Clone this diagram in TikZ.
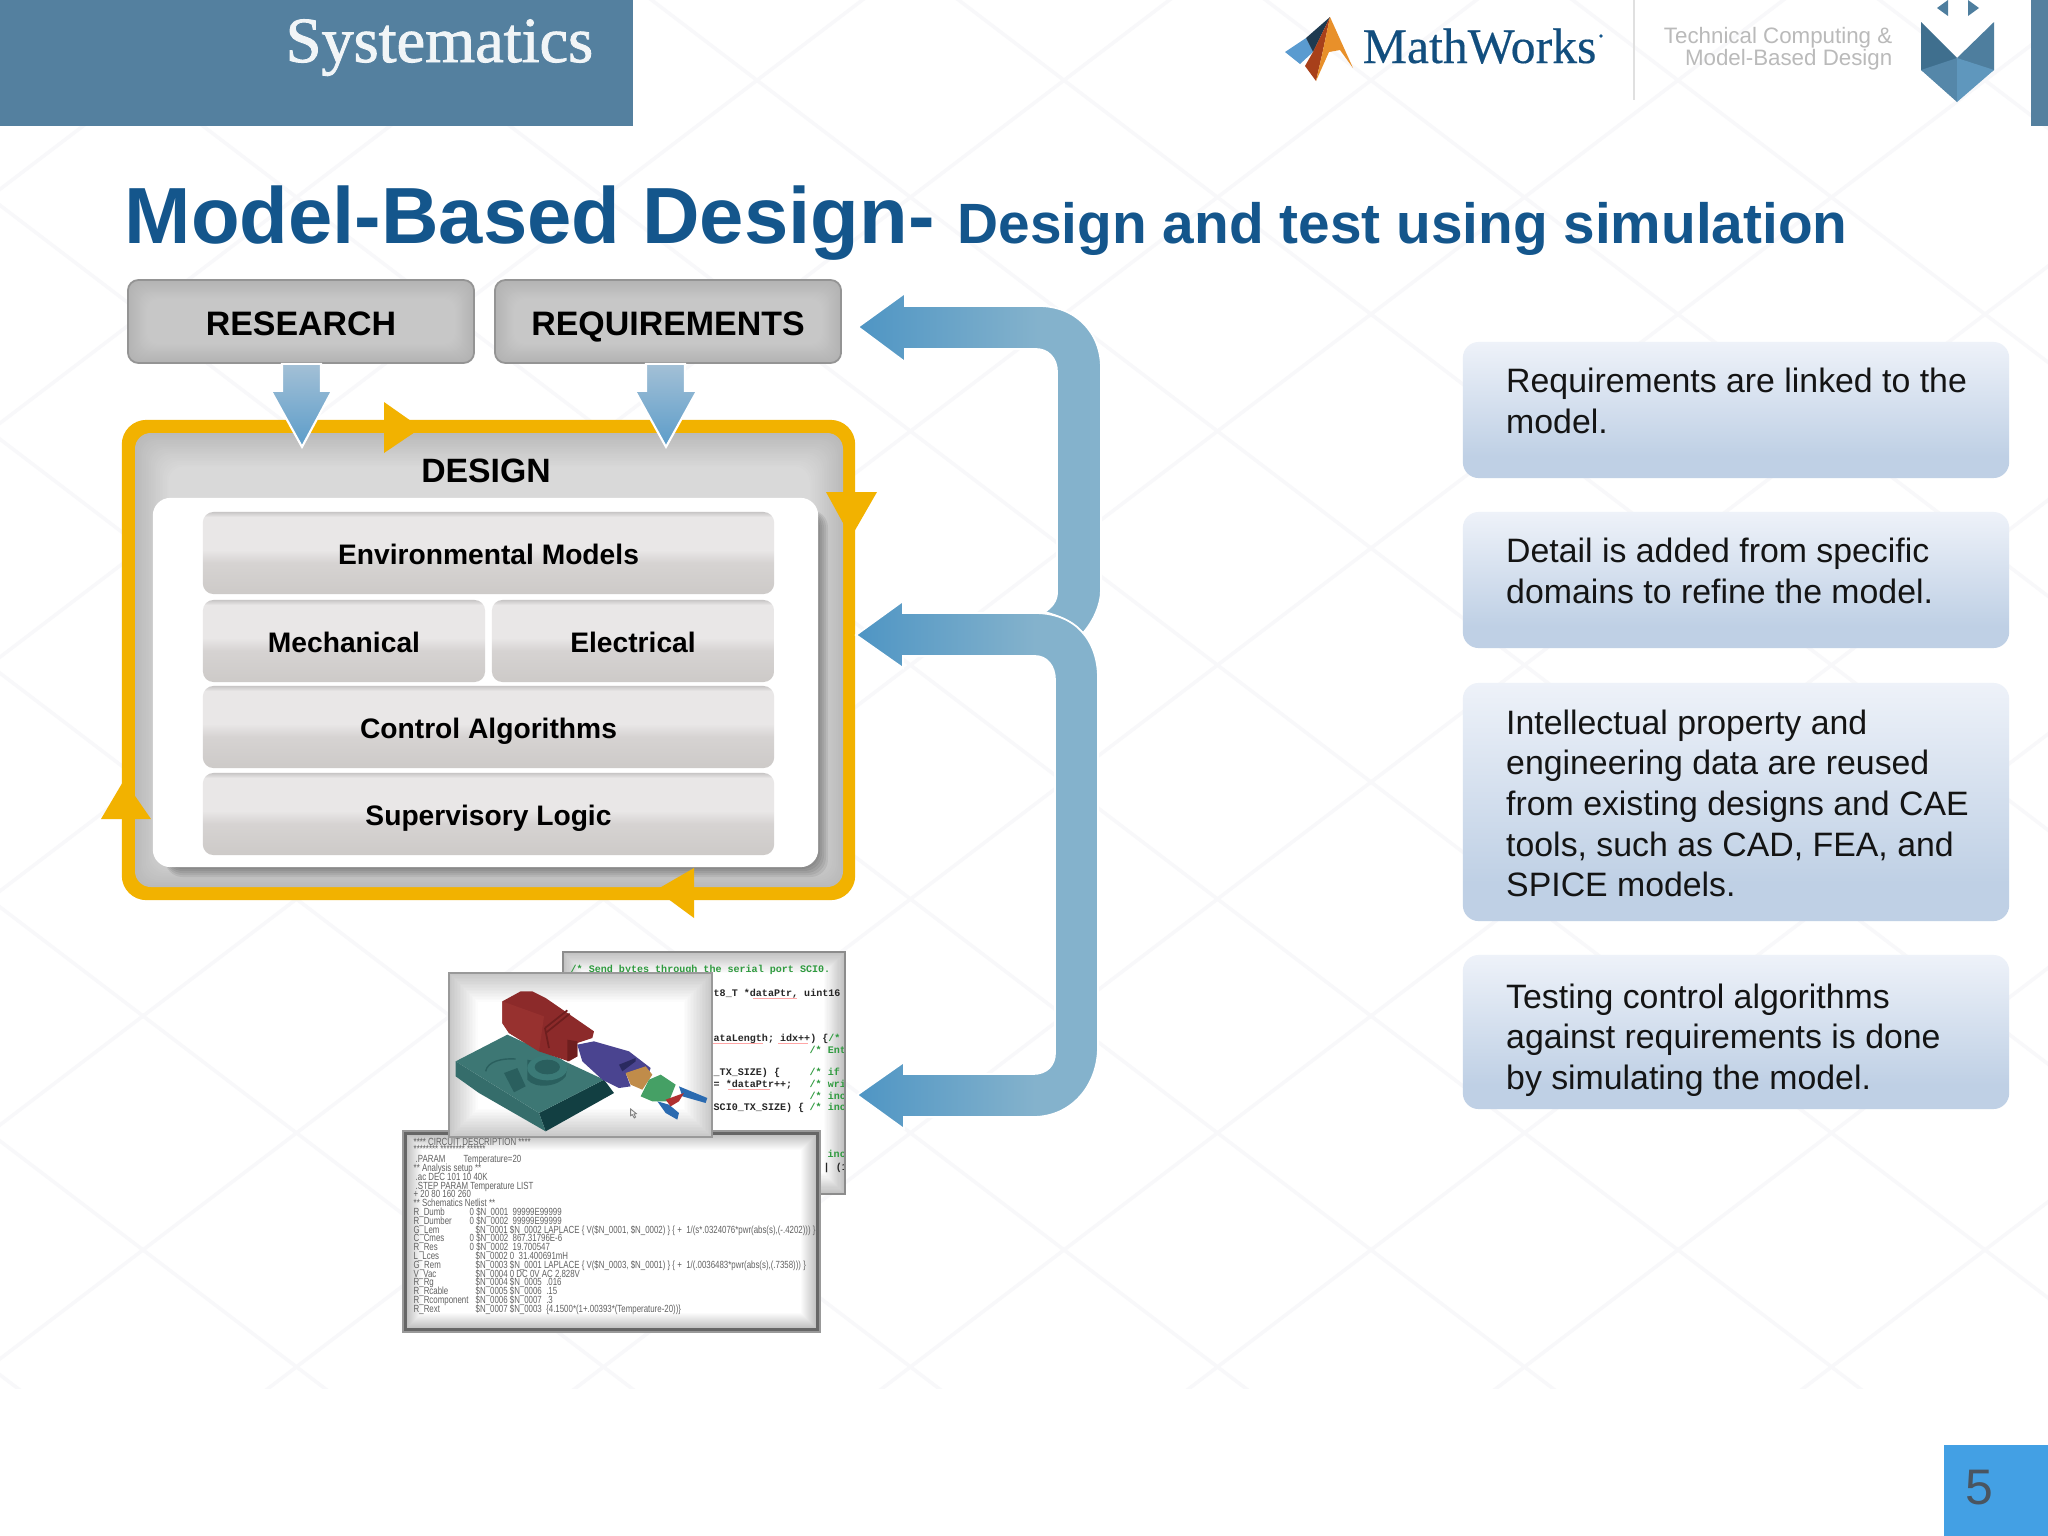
\documentclass[tikz,border=0pt]{standalone}
\usepackage{fontspec}
\setmainfont{Liberation Sans}
\newfontfamily\serifx{Liberation Serif}
\newfontfamily\serifb[FakeBold=1.4]{Liberation Serif}
\newfontfamily\serifm[FakeBold=0.3]{Liberation Serif}
\newfontfamily\monox{Liberation Mono}
\newfontfamily\cktfont[FakeStretch=0.76]{Liberation Sans}
\definecolor{hdrblue}{HTML}{54809F}
\definecolor{titleblue}{HTML}{14568C}
\definecolor{goldy}{HTML}{F2B200}
\definecolor{arrdark}{HTML}{4E95C4}
\definecolor{arrlight}{HTML}{84B2CC}
\definecolor{arrtop}{HTML}{A3C0D6}
\definecolor{arrtip}{HTML}{5B9CC9}
\definecolor{latt}{HTML}{F8F8FA}
\definecolor{codegreen}{HTML}{2E9A3E}
\definecolor{panlo}{HTML}{CDCAC8}
\definecolor{panmid}{HTML}{D6D3D2}
\definecolor{panhi}{HTML}{E9E7E7}
\definecolor{panedge}{HTML}{C8C6C6}
\definecolor{infolo}{HTML}{BFD0E5}
\definecolor{infohi}{HTML}{EEF2F9}
\definecolor{pageblue}{HTML}{43A0E4}
\definecolor{pagetxt}{HTML}{4A5560}
\definecolor{rbasetop}{HTML}{3D7774}
\definecolor{rbaseleft}{HTML}{356D6B}
\definecolor{rbasedark}{HTML}{123F42}
\definecolor{rcyl}{HTML}{3B7A77}
\definecolor{rnotch}{HTML}{2A5F5E}
\definecolor{rred}{HTML}{8C2A2A}
\definecolor{rredlight}{HTML}{97312F}
\definecolor{rreddark}{HTML}{6E1E1E}
\definecolor{rblue}{HTML}{4A4490}
\definecolor{rbluedark}{HTML}{2A2A60}
\definecolor{rorange}{HTML}{C08C4A}
\definecolor{rgreen}{HTML}{45A065}
\definecolor{rclaw}{HTML}{B03030}
\definecolor{rfinger}{HTML}{2A6AB0}
\definecolor{mwblue}{HTML}{5A9BD0}
\definecolor{mwdark}{HTML}{1E3A50}
\definecolor{mwred}{HTML}{A8401A}
\definecolor{mworange}{HTML}{E8902A}
\definecolor{emA}{HTML}{3F6F8E}
\definecolor{emB}{HTML}{4E7E9E}
\definecolor{emC}{HTML}{5587A9}
\definecolor{emD}{HTML}{5F97BD}
\pgfdeclarehorizontalshading{bluearrowsh}{100bp}{color(0bp)=(arrdark); color(25bp)=(arrdark); color(62bp)=(arrlight); color(100bp)=(arrlight)}
\pgfdeclareverticalshading{panelsh}{100bp}{color(0bp)=(panlo); color(25bp)=(panlo); color(44bp)=(panmid); color(52bp)=(panhi); color(72bp)=(panhi); color(75bp)=(panedge); color(100bp)=(panedge)}
\pgfdeclareverticalshading{infosh}{100bp}{color(0bp)=(infolo); color(33bp)=(infolo); color(75bp)=(infohi); color(100bp)=(infohi)}
\newcommand\softbox[8]{%
  \colorlet{softouter}{#6}\colorlet{softinner}{#7}%
  \foreach \i in {0,...,19}{%
    \pgfmathsetmacro\tmix{\i*100/19}
    \fill[softinner!\tmix!softouter, rounded corners=#5] ({#1+\i*#8/2},{#2+\i*#8/2}) rectangle ({#3-\i*#8/2},{#4-\i*#8/2});
  }}
\newcommand\bstrut{\rule[-3.47pt]{0pt}{11.57pt}}
\newcommand\Nn[1]{\$N\_000#1}
\newcommand\cktline[4]{\node[ckttxt] (#1) at (#3,#2) {#4};}
\newcommand\codeline[4]{\node[codetxt] (#1) at (#3,#2) {#4};}
\tikzset{
  infobox/.style={shade, shading=infosh, rounded corners=4.5pt, inner sep=0pt},
  infotext/.style={anchor=north west, inner sep=0pt, align=left, text=black!92, font=\fontsize{9.62pt}{11.57pt}\selectfont},
  greybox/.style={draw=black!42, line width=.5pt, rounded corners=3pt, inner sep=0pt, minimum width=3.46cm, minimum height=.83cm, text height=7.7pt, text depth=0pt, font=\fontsize{9.65pt}{12pt}\selectfont\bfseries},
  panelbox/.style={shade, shading=panelsh, rounded corners=3pt, inner sep=0pt, minimum height=.82cm, text height=6.7pt, text depth=0pt, font=\fontsize{8.02pt}{10pt}\selectfont\bfseries},
  goldtri/.style={fill=goldy},
  downarr/.style={top color=arrtop, bottom color=arrtip, draw=white, line width=.6pt},
  bigarr/.style={shading=bluearrowsh, draw=white, line width=.5pt},
  ckttxt/.style={anchor=base west, inner sep=0pt, text=black!62, font=\cktfont\fontsize{2.95pt}{3.5pt}\selectfont},
  codetxt/.style={anchor=base west, inner sep=0pt, text=black!85, font=\monox\bfseries\fontsize{2.86pt}{3.4pt}\selectfont},
  lattline/.style={draw=latt, line width=1pt},
}
\begin{document}
\begin{tikzpicture}[x=0.01cm,y=-0.01cm]
\useasboundingbox (0,0) rectangle (2048,1536);
\fill[white] (0,0) rectangle (2048,1536);
% background lattice
\begin{scope}
  \clip (0,0) rectangle (2048,1388);
  \foreach \k in {-8,...,16}{
    \pgfmathsetmacro\xo{143+307*\k}
    \draw[lattline] ({\xo-1706},-50) -- ({\xo+197},1400);
    \draw[lattline] ({\xo+1706},-50) -- ({\xo-197},1400);
  }
\end{scope}
% header
\fill[hdrblue] (0,0) rectangle (633,126);
\fill[hdrblue] (2031,0) rectangle (2048,126);
\node[anchor=base west, inner sep=0pt, text=white!92!hdrblue, font=\serifb\fontsize{18.3pt}{22pt}\selectfont] (systematics) at (285,62) {Systematics};
% MathWorks logo
\fill[mwblue] (1285,52) -- (1306,38) -- (1313,52) -- (1300,64) -- cycle;
\fill[mwdark] (1306,38) -- (1330,17) -- (1316,46) -- (1313,52) -- cycle;
\fill[mwred] (1313,52) -- (1330,17) -- (1322,55) -- (1316,81) -- (1305,66) -- cycle;
\fill[mworange] (1330,17) -- (1353,68) -- (1340,50) -- (1329,52) -- (1316,81) -- (1322,55) -- cycle;
\node[anchor=base west, inner sep=0pt, text=titleblue!90!black, font=\serifm\fontsize{14.15pt}{17pt}\selectfont] (mathworks) at (1362,63) {MathWorks};
\fill[titleblue] (1601,36) circle (1.8);
\draw[black!12, line width=.5pt] (1634,0) -- (1634,100);
\node[anchor=base east, inner sep=0pt, text=black!27, font=\fontsize{6.35pt}{7.5pt}\selectfont] (tagone) at (1893,43) {Technical Computing \&};
\node[anchor=base east, inner sep=0pt, text=black!27, font=\fontsize{6.35pt}{7.5pt}\selectfont] (tagtwo) at (1893,65) {Model-Based Design};
% emblem
\fill[emB] (1937,8) -- (1948,0) -- (1948,16) -- cycle;
\fill[emB] (1968,0) -- (1979,8) -- (1968,16) -- cycle;
\fill[emA] (1921,22) -- (1957,58) -- (1930,76) -- (1921,70) -- cycle;
\fill[emB] (1994,22) -- (1994,70) -- (1985,76) -- (1957,58) -- cycle;
\fill[emC] (1921,70) -- (1957,58) -- (1957,102) -- cycle;
\fill[emD] (1994,70) -- (1957,58) -- (1957,102) -- cycle;
% title
\node[anchor=base west, inner sep=0pt, text=titleblue, font=\fontsize{22.65pt}{27pt}\selectfont\bfseries] (title) at (124,243) {Model-Based Design-};
\node[anchor=base west, inner sep=0pt, text=titleblue, font=\fontsize{16.15pt}{19pt}\selectfont\bfseries] (subtitle) at (957,243) {Design and test using simulation};
% research, requirements
\softbox{128}{280}{474}{363}{3pt}{black!30}{black!22}{2}
\softbox{495}{280}{841}{363}{3pt}{black!30}{black!22}{2}
\node[greybox] (research) at (301,321.5) {RESEARCH};
\node[greybox] (requirements) at (668,321.5) {REQUIREMENTS};
% design frame
\node[fill=goldy, rounded corners=7pt, inner sep=0pt, minimum width=7.33cm, minimum height=4.8cm] (designframe) at (488.5,660) {};
\softbox{135}{433}{843}{887}{4.5pt}{black!27}{black!15}{3.5}
\foreach \i in {2,4,...,10}{
  \fill[black, opacity=.07, rounded corners=5pt] (165,510) rectangle ({818+\i},{867+\i});
}
\node[fill=white, rounded corners=5pt, inner sep=0pt, minimum width=6.65cm, minimum height=3.69cm] (whitepanel) at (485.5,682.5) {};
\node[inner sep=0pt, text height=7pt, text depth=0pt, font=\fontsize{9.6pt}{12pt}\selectfont\bfseries] (designlabel) at (486,470) {DESIGN};
\node[panelbox, minimum width=5.71cm] (env) at (488.5,553) {Environmental Models};
\node[panelbox, minimum width=2.82cm] (mech) at (344,641) {Mechanical};
\node[panelbox, minimum width=2.82cm] (elec) at (633,641) {Electrical};
\node[panelbox, minimum width=5.71cm] (ctrl) at (488.5,727) {Control Algorithms};
\node[panelbox, minimum width=5.71cm] (sup) at (488.5,814) {Supervisory Logic};
% gold cycle arrowheads
\fill[goldtri] (384,402) -- (421,428) -- (384,453) -- cycle;
\fill[goldtri] (826,492) -- (877,492) -- (854,532) -- (848,532) -- cycle;
\fill[goldtri] (101,819) -- (124,780) -- (151,819) -- cycle;
\fill[goldtri] (694,868) -- (694,918) -- (656,890) -- cycle;
% blue vertical arrows
\begin{scope}[shift={(research.south)}]
  \shadedraw[downarr] (-19,0) -- (-19,27) -- (-30,27) -- (1,83) -- (31,27) -- (20,27) -- (20,0) -- cycle;
\end{scope}
\begin{scope}[shift={(requirements.south)}]
  \shadedraw[downarr] (-22,0) -- (-22,27) -- (-33,27) -- (-2,83) -- (29,27) -- (17,27) -- (17,0) -- cycle;
\end{scope}
% big feedback arrows
\coordinate (tipreq) at (858,327);
\coordinate (tipdes) at (856,635);
\coordinate (tipcode) at (857,1095);
\shadedraw[bigarr] (tipreq) -- (905,293) -- (905,306) -- (1039,306) .. controls (1075,306) and (1101,332) .. (1101,368) -- (1101,590) .. controls (1101,605) and (1093,622) .. (1083,633) .. controls (1072,622) and (1058,615) .. (1044,612) .. controls (1052,608) and (1057,600) .. (1057,593) -- (1057,372) .. controls (1057,358) and (1048,349) .. (1036,349) -- (905,349) -- (905,362) -- cycle;
\shadedraw[bigarr] (tipdes) -- (903,601) -- (903,613) -- (1035,613) .. controls (1075,613) and (1098,640) .. (1098,678) -- (1098,1047) .. controls (1098,1085) and (1072,1117) .. (1033,1117) -- (904,1117) -- (904,1129) -- (tipcode) -- (904,1062) -- (904,1074) -- (1033,1074) .. controls (1047,1074) and (1055,1065) .. (1055,1053) -- (1055,680) .. controls (1055,666) and (1047,656) .. (1035,656) -- (903,656) -- (903,668) -- cycle;
% code panel
\softbox{563}{952}{845}{1194}{0pt}{black!25}{white}{2.2}
\begin{scope}
  \clip (563,952) rectangle (845,1194);
  \node[codetxt, text=codegreen] (code1) at (570,972) {/* Send bytes through the serial port SCI0.};
  \codeline{code2}{996}{713}{t8\_T *dataPtr, uint16}
  \codeline{code3}{1041}{713}{ataLength; idx++) \{{\color{codegreen}/*}}
  \node[codetxt, text=codegreen] (code4) at (809,1053) {/* Ent};
  \codeline{code5}{1075}{713}{\_TX\_SIZE) \{}
  \node[codetxt, text=codegreen] (code6) at (809,1075) {/* if};
  \codeline{code7}{1087}{713}{= *dataPtr++;}
  \node[codetxt, text=codegreen] (code8) at (809,1087) {/* wri};
  \node[codetxt, text=codegreen] (code9) at (809,1099) {/* inc};
  \codeline{code10}{1110}{713}{SCI0\_TX\_SIZE) \{}
  \node[codetxt, text=codegreen] (code11) at (809,1110) {/* inc};
  \node[codetxt, text=codegreen] (code12) at (827,1157) {inc};
  \codeline{code13}{1170}{823}{| (1}
  \draw[red!35, line width=.2pt] (753,998) -- (797,998) (712,1043) -- (763,1043) (778,1043) -- (808,1043) (728,1089) -- (770,1089);
\end{scope}
\draw[black!45, line width=.5pt] (563,952) rectangle (845,1194);
% circuit panel
\softbox{403}{1131}{820}{1332}{0pt}{black!30}{white}{2}
\draw[black!60, line width=1pt] (405,1133) rectangle (818,1330);
\draw[black!40, line width=.4pt] (403,1131) rectangle (820,1332);
\cktline{ck1}{1145}{413}{**** CIRCUIT DESCRIPTION ****}
\cktline{ck2}{1152}{413}{******** ******** ******}
\cktline{ck3a}{1162}{415}{.PARAM}
\cktline{ck3b}{1162}{463}{Temperature=20}
\cktline{ck4}{1171}{413}{** Analysis setup **}
\cktline{ck5}{1180}{415}{.ac DEC 101 10 40K}
\cktline{ck6}{1189}{415}{.STEP PARAM Temperature LIST}
\cktline{ck7}{1197}{413}{+ 20 80 160 260}
\cktline{ck8}{1206}{413}{** Schematics Netlist **}
\cktline{ck9a}{1215}{413}{R\_Dumb}
\cktline{ck9b}{1215}{469}{0 \Nn1 \ 99999E99999}
\cktline{ck10a}{1224}{413}{R\_Dumber}
\cktline{ck10b}{1224}{469}{0 \Nn2 \ 99999E99999}
\cktline{ck11a}{1233}{413}{G\_Lem}
\cktline{ck11b}{1233}{475}{\Nn1 \Nn2 LAPLACE \{ V(\Nn1, \Nn2) \} \{ + \ 1/(s*.0324076*pwr(abs(s),(-.4202))) \}}
\cktline{ck12a}{1241}{413}{C\_Cmes}
\cktline{ck12b}{1241}{469}{0 \Nn2 \ 867.31796E-6}
\cktline{ck13a}{1250}{413}{R\_Res}
\cktline{ck13b}{1250}{469}{0 \Nn2 \ 19.700547}
\cktline{ck14a}{1259}{413}{L\_Lces}
\cktline{ck14b}{1259}{475}{\Nn2 0 \ 31.400691mH}
\cktline{ck15a}{1268}{413}{G\_Rem}
\cktline{ck15b}{1268}{475}{\Nn3 \Nn1 LAPLACE \{ V(\Nn3, \Nn1) \} \{ + \ 1/(.0036483*pwr(abs(s),(.7358))) \}}
\cktline{ck16a}{1277}{413}{V\_Vac}
\cktline{ck16b}{1277}{475}{\Nn4 0 DC 0V AC 2.828V}
\cktline{ck17a}{1285}{413}{R\_Rg}
\cktline{ck17b}{1285}{475}{\Nn4 \Nn5 \ .016}
\cktline{ck18a}{1294}{413}{R\_Rcable}
\cktline{ck18b}{1294}{475}{\Nn5 \Nn6 \ .15}
\cktline{ck19a}{1303}{413}{R\_Rcomponent}
\cktline{ck19b}{1303}{475}{\Nn6 \Nn7 \ .3}
\cktline{ck20a}{1312}{413}{R\_Rext}
\cktline{ck20b}{1312}{475}{\Nn7 \Nn3 \ \{4.1500*(1+.00393*(Temperature-20))\}}
% robot picture
\softbox{449}{973}{712}{1137}{0pt}{black!22}{white}{3}
\draw[black!40, line width=.5pt] (449,973) rectangle (712,1137);
\begin{scope}[shift={(449,973)}, scale=0.3333]
  \fill[rbasedark] (270,420) -- (465,320) -- (495,360) -- (290,475) -- cycle;
  \fill[rbaseleft] (20,265) -- (20,310) -- (90,360) -- (290,475) -- (270,420) -- cycle;
  \fill[rbasetop] (20,265) -- (175,185) -- (465,320) -- (270,420) -- cycle;
  \draw[rnotch, line width=.4pt] (110,295) .. controls (115,265) and (160,255) .. (200,258);
  \fill[rnotch] (235,260) -- (235,320) .. controls (260,350) and (330,340) .. (350,310) -- (355,285) -- cycle;
  \fill[rcyl] (295,285) ellipse (60 and 37);
  \fill[rnotch] (295,282) ellipse (38 and 22);
  \fill[rnotch] (165,300) -- (205,285) -- (230,340) -- (195,358) -- cycle;
  \fill[rred] (160,85) -- (215,55) -- (250,55) -- (290,75) -- (435,175) -- (430,195) -- (385,210) -- (385,250) -- (360,265) -- (270,235) -- (180,180) -- (160,150) -- cycle;
  \fill[rredlight] (160,85) -- (285,130) -- (270,235) -- (180,180) -- (160,150) -- cycle;
  \fill[rreddark] (355,200) -- (385,205) -- (385,250) -- (355,265) -- cycle;
  \draw[rreddark, line width=.5pt] (288,165) -- (355,112) (290,180) -- (362,122) (288,165) -- (300,225);
  \fill[rblue] (385,215) -- (435,205) -- (540,235) -- (605,285) -- (600,300) -- (530,300) -- (545,340) -- (510,345) -- (460,320) -- (400,265) -- cycle;
  \fill[rbluedark] (510,275) -- (560,255) -- (560,265) -- (520,295) -- cycle;
  \fill[rorange] (530,300) -- (590,280) -- (610,305) -- (580,350) -- (545,335) -- cycle;
  \fill[rfinger] (690,340) -- (775,375) -- (770,390) -- (700,370) -- cycle;
  \fill[rfinger] (625,385) -- (660,395) -- (690,420) -- (685,440) -- (650,420) -- cycle;
  \fill[rgreen] (575,370) -- (600,320) -- (635,305) -- (680,335) -- (660,385) -- (610,385) -- cycle;
  \fill[rclaw] (650,380) -- (705,360) -- (690,385) -- (665,400) -- cycle;
  \draw[black!50, line width=.25pt] (545,408) -- (545,428) -- (550,425) -- (556,435) -- (560,432) -- (555,423) -- (562,422) -- cycle;
\end{scope}
% info boxes
\node[infobox, minimum width=5.46cm, minimum height=1.36cm] (info1) at (1736,410) {};
\node[infobox, minimum width=5.46cm, minimum height=1.36cm] (info2) at (1736,580) {};
\node[infobox, minimum width=5.46cm, minimum height=2.38cm] (info3) at (1736,802) {};
\node[infobox, minimum width=5.46cm, minimum height=1.54cm] (info4) at (1736,1032) {};
\node[infotext] (text1) at (1505.5,363.8) {\bstrut Requirements are linked to the\\\bstrut model.};
\node[infotext] (text2) at (1505.5,533.8) {\bstrut Detail is added from specific\\\bstrut domains to refine the model.};
\node[infotext] (text3) at (1505.5,704.8) {\bstrut Intellectual property and\\\bstrut engineering data are reused\\\bstrut from existing designs and CAE\\\bstrut tools, such as CAD, FEA, and\\\bstrut SPICE models.};
\node[infotext] (text4) at (1505.5,978.8) {\bstrut Testing control algorithms\\\bstrut against requirements is done\\\bstrut by simulating the model.};
% page number
\node[fill=pageblue, inner sep=0pt, minimum width=1.05cm, minimum height=.92cm, anchor=north west] (pagebox) at (1943,1444) {};
\node[inner sep=0pt, text=pagetxt, font=\fontsize{14.2pt}{17pt}\selectfont] (pagenum) at (1979,1488) {5};
\end{tikzpicture}
\end{document}
